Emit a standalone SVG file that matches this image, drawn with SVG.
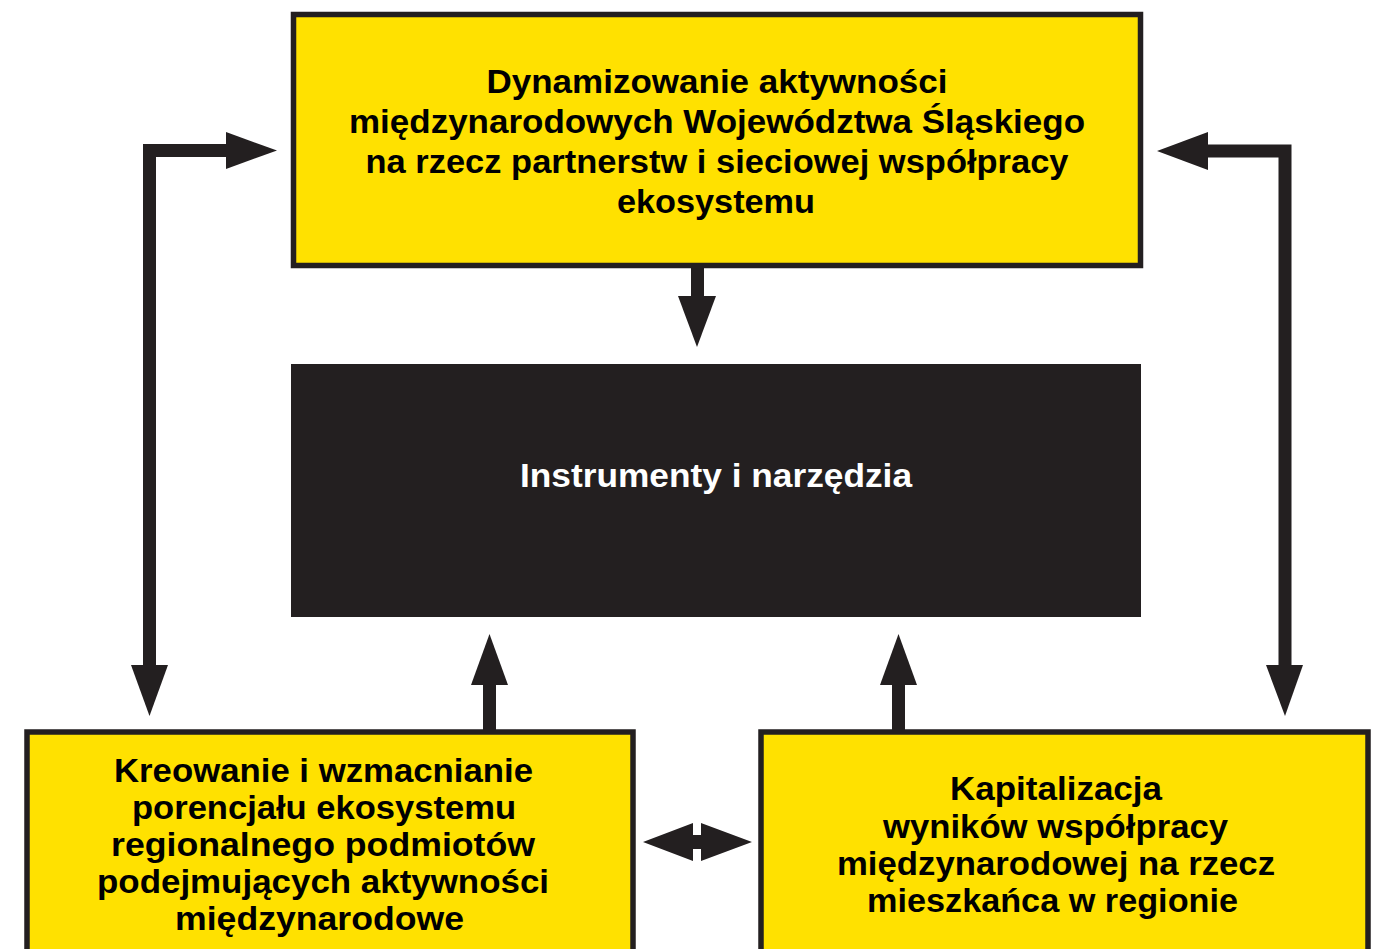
<svg xmlns="http://www.w3.org/2000/svg" width="1383" height="949" viewBox="0 0 1383 949">
<style>
.box{fill:#FFE100;stroke:#231F20;stroke-width:5.5}
.dark{fill:#231F20}
.t{font-family:"Liberation Sans","Arial",sans-serif;font-weight:700;font-size:33px;fill:#000;text-anchor:middle}
.w{fill:#fff;font-size:34px}
.ln{fill:none;stroke:#231F20;stroke-width:13;stroke-linejoin:miter;stroke-linecap:butt}
.hd{fill:#231F20}
</style>
<rect width="1383" height="949" fill="#fff"/>
<g id="node-top">
<rect class="box" x="293.5" y="14.5" width="847" height="251"/>
<text class="t" x="717" y="93" textLength="461" lengthAdjust="spacingAndGlyphs">Dynamizowanie aktywności</text>
<text class="t" x="717" y="133" textLength="736" lengthAdjust="spacingAndGlyphs">międzynarodowych Województwa Śląskiego</text>
<text class="t" x="717" y="173" textLength="703" lengthAdjust="spacingAndGlyphs">na rzecz partnerstw i sieciowej współpracy</text>
<text class="t" x="716" y="213" textLength="198" lengthAdjust="spacingAndGlyphs">ekosystemu</text>
</g>
<g id="node-center">
<rect class="dark" x="291" y="364" width="850" height="253"/>
<text class="t w" x="716" y="487" textLength="392" lengthAdjust="spacingAndGlyphs">Instrumenty i narzędzia</text>
</g>
<g id="node-left">
<rect class="box" x="27" y="732" width="606" height="240"/>
<text class="t" x="323.5" y="782" textLength="419" lengthAdjust="spacingAndGlyphs">Kreowanie i wzmacnianie</text>
<text class="t" x="324" y="819" textLength="384" lengthAdjust="spacingAndGlyphs">porencjału ekosystemu</text>
<text class="t" x="323" y="856" textLength="424" lengthAdjust="spacingAndGlyphs">regionalnego podmiotów</text>
<text class="t" x="323" y="893" textLength="452" lengthAdjust="spacingAndGlyphs">podejmujących aktywności</text>
<text class="t" x="319.5" y="930" textLength="289" lengthAdjust="spacingAndGlyphs">międzynarodowe</text>
</g>
<g id="node-right">
<rect class="box" x="761" y="732" width="607" height="240"/>
<text class="t" x="1056" y="800" textLength="212" lengthAdjust="spacingAndGlyphs">Kapitalizacja</text>
<text class="t" x="1055.5" y="838" textLength="345" lengthAdjust="spacingAndGlyphs">wyników współpracy</text>
<text class="t" x="1056" y="875" textLength="438" lengthAdjust="spacingAndGlyphs">międzynarodowej na rzecz</text>
<text class="t" x="1052.5" y="912" textLength="371" lengthAdjust="spacingAndGlyphs">mieszkańca w regionie</text>
</g>
<g id="connectors">
<path class="ln" d="M149.5,667 V150.5 H228"/>
<polygon class="hd" points="226,132 277,150.5 226,169"/>
<polygon class="hd" points="131,665 168,665 149.5,716"/>
<path class="ln" d="M1285,667 V151 H1206"/>
<polygon class="hd" points="1208,132 1157,151 1208,170"/>
<polygon class="hd" points="1266,665 1303,665 1285,716"/>
<path class="ln" d="M697.5,268 V298"/>
<polygon class="hd" points="678,296 716,296 697,347"/>
<path class="ln" d="M489.5,730 V683"/>
<polygon class="hd" points="471,685 508,685 489.5,634"/>
<path class="ln" d="M898.5,730 V683"/>
<polygon class="hd" points="880,685 917,685 898.5,634"/>
<polygon class="hd" points="643,842 693,823 693,835 701,835 701,823 752,842 701,861 701,849 693,849 693,861"/>
</g>
</svg>
